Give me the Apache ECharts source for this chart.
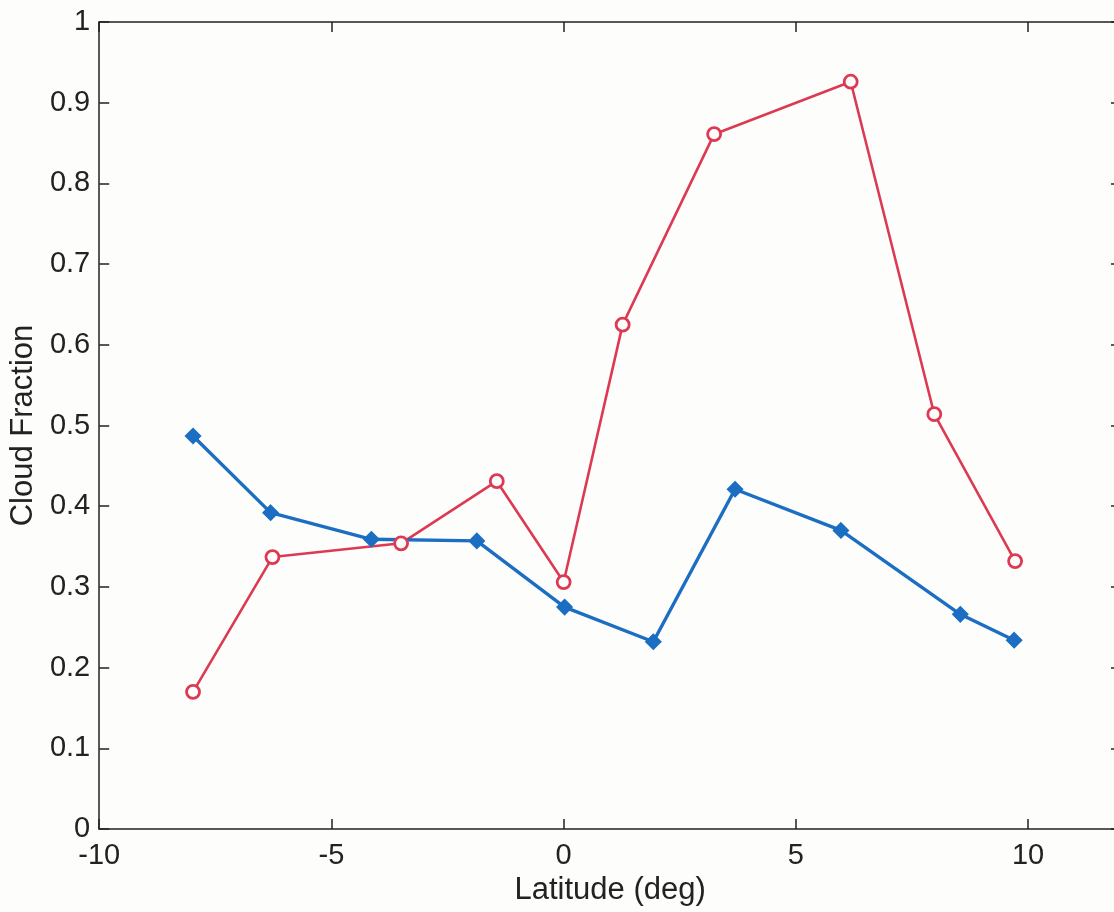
<!DOCTYPE html>
<html>
<head>
<meta charset="utf-8">
<script src="https://cdn.jsdelivr.net/npm/echarts@6/dist/echarts.min.js"></script>
<style>
html,body{margin:0;padding:0;background:#fdfdfb;overflow:hidden;width:1114px;height:912px;}
#chart{width:1130px;height:912px;}
</style>
</head>
<body>
<div id="chart"></div>
<script>
// Data
const redLat   = [-7.98, -6.27, -3.50, -1.44, 0.00, 1.27, 3.24, 6.18, 7.98, 9.72];
const redFrac  = [0.170, 0.337, 0.354, 0.431, 0.306, 0.625, 0.861, 0.926, 0.514, 0.332];
const blueLat  = [-7.98, -6.31, -4.14, -1.87, 0.02, 1.93, 3.69, 5.97, 8.54, 9.70];
const blueFrac = [0.487, 0.392, 0.359, 0.357, 0.275, 0.232, 0.421, 0.370, 0.266, 0.234];
const xTicks = [-10, -5, 0, 5, 10];
const yTicks = [0, 0.1, 0.2, 0.3, 0.4, 0.5, 0.6, 0.7, 0.8, 0.9, 1];

const textColor = '#222';
const font = 'Liberation Sans, Arial, Helvetica, sans-serif';
const pair = (xs, ys) => xs.map((x, i) => [x, ys[i]]);

const chart = echarts.init(document.getElementById('chart'));
const axisLine = {show: true, onZero: false, lineStyle: {color: '#222', width: 1.5}};
const tick = {show: true, inside: true, length: 10, lineStyle: {color: '#222', width: 1.5}};
chart.setOption({
  backgroundColor: '#fdfdfb',
  animation: false,
  grid: {left: 97, top: 22, right: 9, bottom: 83, containLabel: false},
  xAxis: [{
    type: 'value', min: -10, max: 12, interval: 5, position: 'bottom',
    axisLine: axisLine, axisTick: tick, splitLine: {show: false},
    axisLabel: {color: textColor, fontSize: 29, fontFamily: font, margin: 12,
      formatter: v => xTicks.includes(v) ? String(v) : ''},
    name: 'Latitude (deg)', nameLocation: 'middle', nameGap: 41,
    nameTextStyle: {color: textColor, fontSize: 31, fontFamily: font}
  }, {
    type: 'value', min: -10, max: 12, interval: 5, position: 'top',
    axisLine: axisLine, axisTick: tick, splitLine: {show: false},
    axisLabel: {show: false}
  }],
  yAxis: [{
    type: 'value', min: 0, max: 1, interval: 0.1, position: 'left',
    axisLine: axisLine, axisTick: tick, splitLine: {show: false},
    axisLabel: {color: textColor, fontSize: 29, fontFamily: font, margin: 9,
      formatter: v => { const t = yTicks.find(y => Math.abs(y - v) < 1e-6); return t === undefined ? '' : String(t); }},
    name: 'Cloud Fraction', nameLocation: 'middle', nameGap: 60,
    nameTextStyle: {color: textColor, fontSize: 31, fontFamily: font}
  }, {
    type: 'value', min: 0, max: 1, interval: 0.1, position: 'right',
    axisLine: axisLine, axisTick: tick, splitLine: {show: false},
    axisLabel: {show: false}
  }],
  series: [{
    type: 'line', name: 'red', data: pair(redLat, redFrac),
    xAxisIndex: 0, yAxisIndex: 0,
    symbol: 'circle', symbolSize: 13, showAllSymbol: true,
    lineStyle: {color: '#dc3a52', width: 2.6},
    itemStyle: {color: '#fdfdfb', borderColor: '#dc3a52', borderWidth: 2.8}
  }, {
    type: 'line', name: 'blue', data: pair(blueLat, blueFrac),
    xAxisIndex: 0, yAxisIndex: 0,
    symbol: 'diamond', symbolSize: 15, showAllSymbol: true,
    lineStyle: {color: '#1b6ec2', width: 3.4},
    itemStyle: {color: '#1b6ec2', borderColor: '#1b6ec2', borderWidth: 1.5}
  }]
});
</script>
</body>
</html>
